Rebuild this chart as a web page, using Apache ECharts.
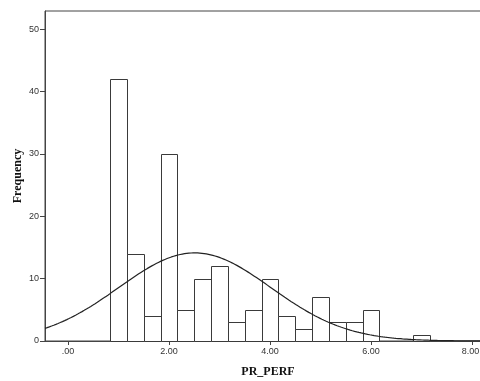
<!DOCTYPE html>
<html><head><meta charset="utf-8">
<script src="https://cdn.jsdelivr.net/npm/echarts@6/dist/echarts.min.js"></script>
<style>html,body{margin:0;padding:0;background:#fff}#c{width:480px;height:381px}</style>
</head><body><div id="c"></div>
<script>
// Histogram bins (bin width 1/3), centres and frequencies
const binCenters = [1.0, 1.3333, 1.6667, 2.0, 2.3333, 2.6667, 3.0, 3.3333, 3.6667, 4.0, 4.3333, 4.6667, 5.0, 5.3333, 5.6667, 6.0, 6.3333, 6.6667, 7.0];
const counts     = [42, 14, 4, 30, 5, 10, 12, 3, 5, 10, 4, 2, 7, 3, 3, 5, 0, 0, 1];
const binWidth = 1 / 3;
const xTickValues = [0, 2, 4, 6, 8];
const xTickLabels = ['.00', '2.00', '4.00', '6.00', '8.00'];
const yTickValues = [0, 10, 20, 30, 40, 50];
const xTitle = 'PR_PERF';
const yTitle = 'Frequency';
const xMin = -0.456, xMax = 8.18, yMax = 52.9;

// Fitted normal curve (SPSS style): mean / sd of the binned data, scaled by N * bin width
const N = counts.reduce((a, b) => a + b, 0);
const mean = binCenters.reduce((s, c, i) => s + c * counts[i], 0) / N;
const sd = Math.sqrt(binCenters.reduce((s, c, i) => s + (c - mean) * (c - mean) * counts[i], 0) / (N - 1));
const curve = [];
for (let k = 0; k <= 200; k++) {
  const x = xMin + (xMax - xMin) * k / 200;
  const y = N * binWidth / (sd * Math.sqrt(2 * Math.PI)) * Math.exp(-0.5 * Math.pow((x - mean) / sd, 2));
  curve.push([x, y]);
}

const barData = binCenters.map((c, i) => [c - binWidth / 2, c + binWidth / 2, counts[i]]);

const chart = echarts.init(document.getElementById('c'), null, {renderer: 'canvas'});
const axisColor = '#444';
chart.setOption({
  animation: false,
  backgroundColor: '#fff',
  grid: {left: 45, top: 11, right: -1, bottom: 40, show: true, borderColor: axisColor, borderWidth: 1, backgroundColor: '#fff',
    containLabel: false, outerBoundsMode: 'none'},
  xAxis: {
    type: 'value', min: xMin, max: xMax,
    axisLine: {show: true, onZero: false, lineStyle: {color: axisColor, width: 1}},
    axisTick: {show: true, length: 4, customValues: xTickValues, lineStyle: {color: axisColor}},
    axisLabel: {customValues: xTickValues, fontSize: 9, color: '#333', fontFamily: 'Liberation Sans', margin: 6,
      formatter: v => {
        const i = xTickValues.indexOf(Math.round(v));
        if (i < 0) return '';
        return i === xTickValues.length - 1 ? '{last|' + xTickLabels[i] + '}' : xTickLabels[i];
      },
      rich: {last: {fontSize: 9, color: '#333', fontFamily: 'Liberation Sans', padding: [0, 3, 0, 0]}}},
    splitLine: {show: false}
  },
  yAxis: {
    type: 'value', min: 0, max: yMax,
    axisLine: {show: true, onZero: false, lineStyle: {color: axisColor, width: 1}},
    axisTick: {show: true, length: 5, customValues: yTickValues, lineStyle: {color: axisColor}},
    axisLabel: {customValues: yTickValues, fontSize: 9, color: '#333', fontFamily: 'Liberation Sans', margin: 6},
    splitLine: {show: false}
  },
  graphic: [
    {type: 'text', x: 268, y: 372, style: {text: xTitle, font: 'bold 12px "Liberation Serif"', fill: '#111', textAlign: 'center', textVerticalAlign: 'middle'}},
    {type: 'text', x: 18, y: 176, rotation: Math.PI / 2, style: {text: yTitle, font: 'bold 12px "Liberation Serif"', fill: '#111', textAlign: 'center', textVerticalAlign: 'middle'}}
  ],
  series: [
    {
      type: 'custom', data: barData, z: 2,
      renderItem: function (params, api) {
        const v = api.value(2);
        if (v <= 0) return null;
        const p0 = api.coord([api.value(0), 0]);
        const p1 = api.coord([api.value(1), v]);
        const x0 = Math.round(p0[0]) + 0.5, x1 = Math.round(p1[0]) + 0.5;
        const y0 = Math.round(p0[1]) + 0.5, y1 = Math.round(p1[1]) + 0.5;
        return {type: 'rect', shape: {x: x0, y: y1, width: x1 - x0, height: y0 - y1},
          style: {fill: '#fff', stroke: '#3a3a3a', lineWidth: 1}};
      }
    },
    {
      type: 'line', data: curve, showSymbol: false, smooth: false, z: 3,
      lineStyle: {color: '#222', width: 1.2}
    }
  ]
});
</script>
</body></html>
